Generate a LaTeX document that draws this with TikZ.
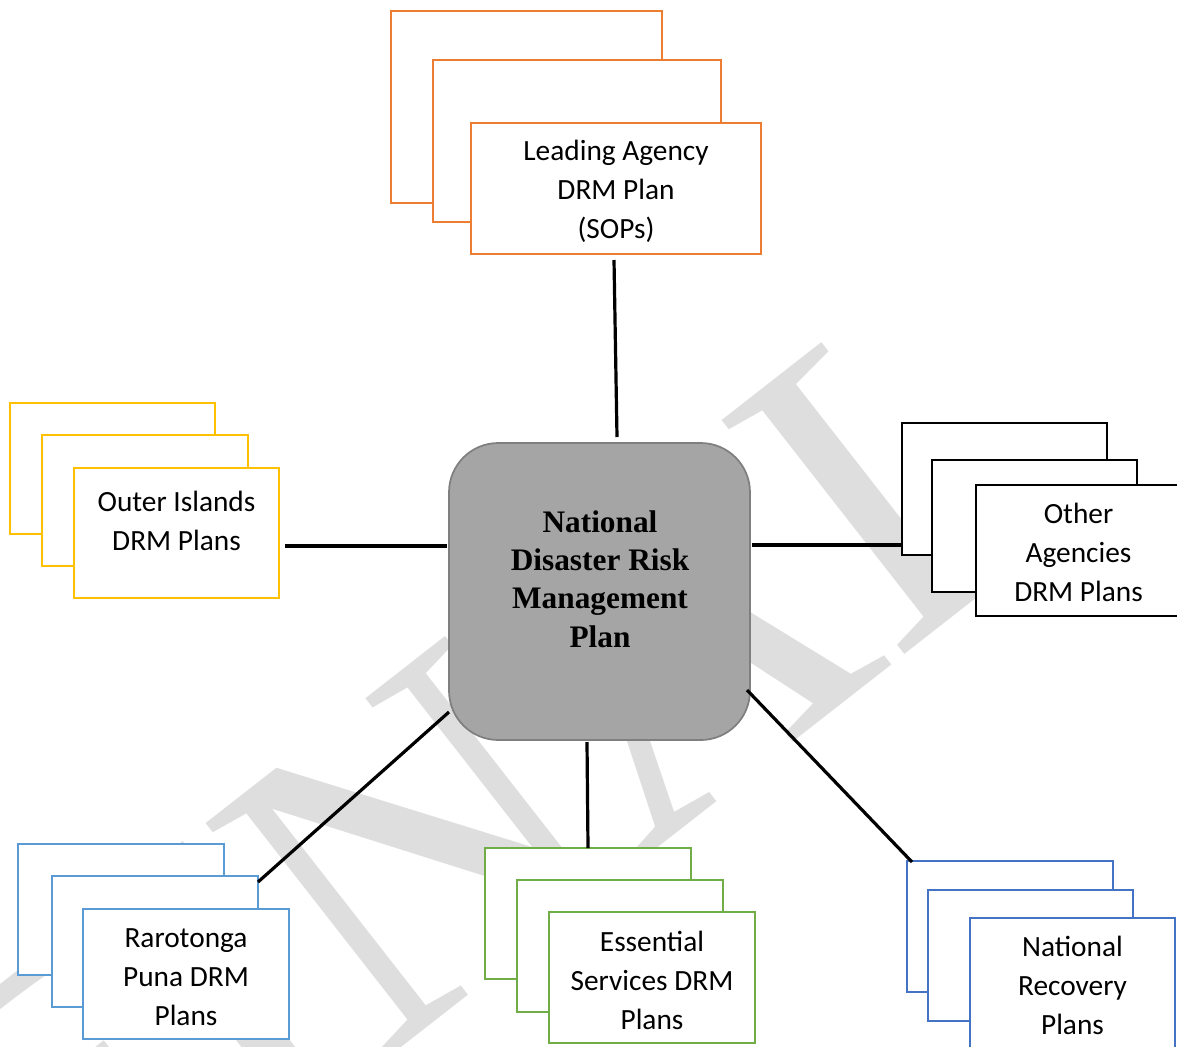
\documentclass[tikz,border=0pt]{standalone}
\usepackage{fontspec}
\setmainfont{Carlito}
\newfontfamily\hdfont{Liberation Serif}
\usetikzlibrary{calc}
\definecolor{cOrange}{HTML}{ED7D31}
\definecolor{cYellow}{HTML}{FFC000}
\definecolor{cLBlue}{HTML}{5B9BD5}
\definecolor{cGreen}{HTML}{70AD47}
\definecolor{cDBlue}{HTML}{4472C4}
\definecolor{cCenter}{HTML}{A5A5A5}
\definecolor{cCenterB}{HTML}{7F7F7F}
\definecolor{cWater}{HTML}{DEDEDE}
\tikzset{
  plan/.style={draw=#1, line width=1.5pt, fill=white, rectangle, inner sep=0pt, outer sep=0pt, anchor=north west},
  lbl/.style={align=center, inner sep=0pt, anchor=base, font=\fontsize{22pt}{28.9pt}\selectfont},
  link/.style={line width=2.4pt, black},
  hub/.style={draw=cCenterB, fill=cCenter, line width=1.3pt, rounded corners=37pt, inner sep=0pt, outer sep=0pt},
  hubtext/.style={align=center, inner sep=0pt, font=\hdfont\bfseries\fontsize{23.5pt}{28.7pt}\selectfont},
  water/.style={text=cWater, inner sep=0pt, font=\hdfont\fontsize{340pt}{340pt}\selectfont}
}
\newcommand\pbox[6]{\node[plan=#2, minimum width={(#5-#3)*0.75pt}, minimum height={(#6-#4)*0.75pt}] (#1) at (#3,#4) {};}
\begin{document}
\begin{tikzpicture}[x=0.75pt,y=-0.75pt]
\useasboundingbox (0,0) rectangle (1177,1046);
\clip (0,0) rectangle (1177,1046);
\fill[white] (0,0) rectangle (1177,1046);
% watermark
\node[water, rotate=38] (wm) at (495,785) {FINAL};
% central hub
\node[hub, minimum width={301*0.75pt}, minimum height={297*0.75pt}] (nat) at (599.5,591.5) {};
\node[hubtext] (natt) at (600,579) {National\\Disaster Risk\\Management\\Plan};
% Leading agency (orange)
\pbox{lead1}{cOrange}{391}{11}{662}{203}
\pbox{lead2}{cOrange}{433}{60}{721}{222}
\pbox{lead}{cOrange}{471}{123}{761}{254}
\node[lbl] (leadt) at (616,238) {Leading Agency\\DRM Plan\\(SOPs)};
% Outer islands (yellow)
\pbox{out1}{cYellow}{10}{403}{215}{534}
\pbox{out2}{cYellow}{42}{435}{248}{566}
\pbox{out}{cYellow}{74}{468}{279}{598}
\node[lbl] (outt) at (176.5,550) {Outer Islands\\DRM Plans};
% Other agencies (black)
\pbox{oth1}{black}{902}{423}{1107}{555}
\pbox{oth2}{black}{932}{460}{1137}{592}
\pbox{oth}{black}{976}{485}{1181}{616}
\node[lbl] (otht) at (1078.5,601) {Other\\Agencies\\DRM Plans};
% Rarotonga (light blue)
\pbox{rar1}{cLBlue}{18}{844}{224}{975}
\pbox{rar2}{cLBlue}{52}{876}{258}{1007}
\pbox{rar}{cLBlue}{83}{909}{289}{1039}
\node[lbl] (rart) at (186,1025) {Rarotonga\\Puna DRM\\Plans};
% Essential services (green)
\pbox{ess1}{cGreen}{485}{848}{691}{979}
\pbox{ess2}{cGreen}{517}{880}{723}{1012}
\pbox{ess}{cGreen}{549}{912}{755}{1043}
\node[lbl] (esst) at (652,1029) {Essential\\Services DRM\\Plans};
% National recovery (dark blue)
\pbox{rec1}{cDBlue}{907}{861}{1113}{992}
\pbox{rec2}{cDBlue}{928}{890}{1133}{1021}
\pbox{rec}{cDBlue}{970}{918}{1175}{1050}
\node[lbl] (rect) at (1072.5,1034) {National\\Recovery\\Plans};
% connectors
\draw[link] ($(lead.south)+(-2,6)$) -- ($(nat.north)+(17.5,-6)$);
\draw[link] ($(out.east)+(6,13)$) -- ($(nat.west)+(-2,-45.5)$);
\draw[link] ($(nat.east)+(2,-46.5)$) -- ($(oth1.west)+(0,56)$);
\draw[link] ($(nat.south west)+(0,-28)$) -- ($(rar2.north east)+(0,6)$);
\draw[link] ($(nat.south)+(-12.5,2)$) -- (ess1.north);
\draw[link] ($(nat.south east)+(-3,-50)$) -- ($(rec1.north west)+(5,1)$);
\end{tikzpicture}
\end{document}
